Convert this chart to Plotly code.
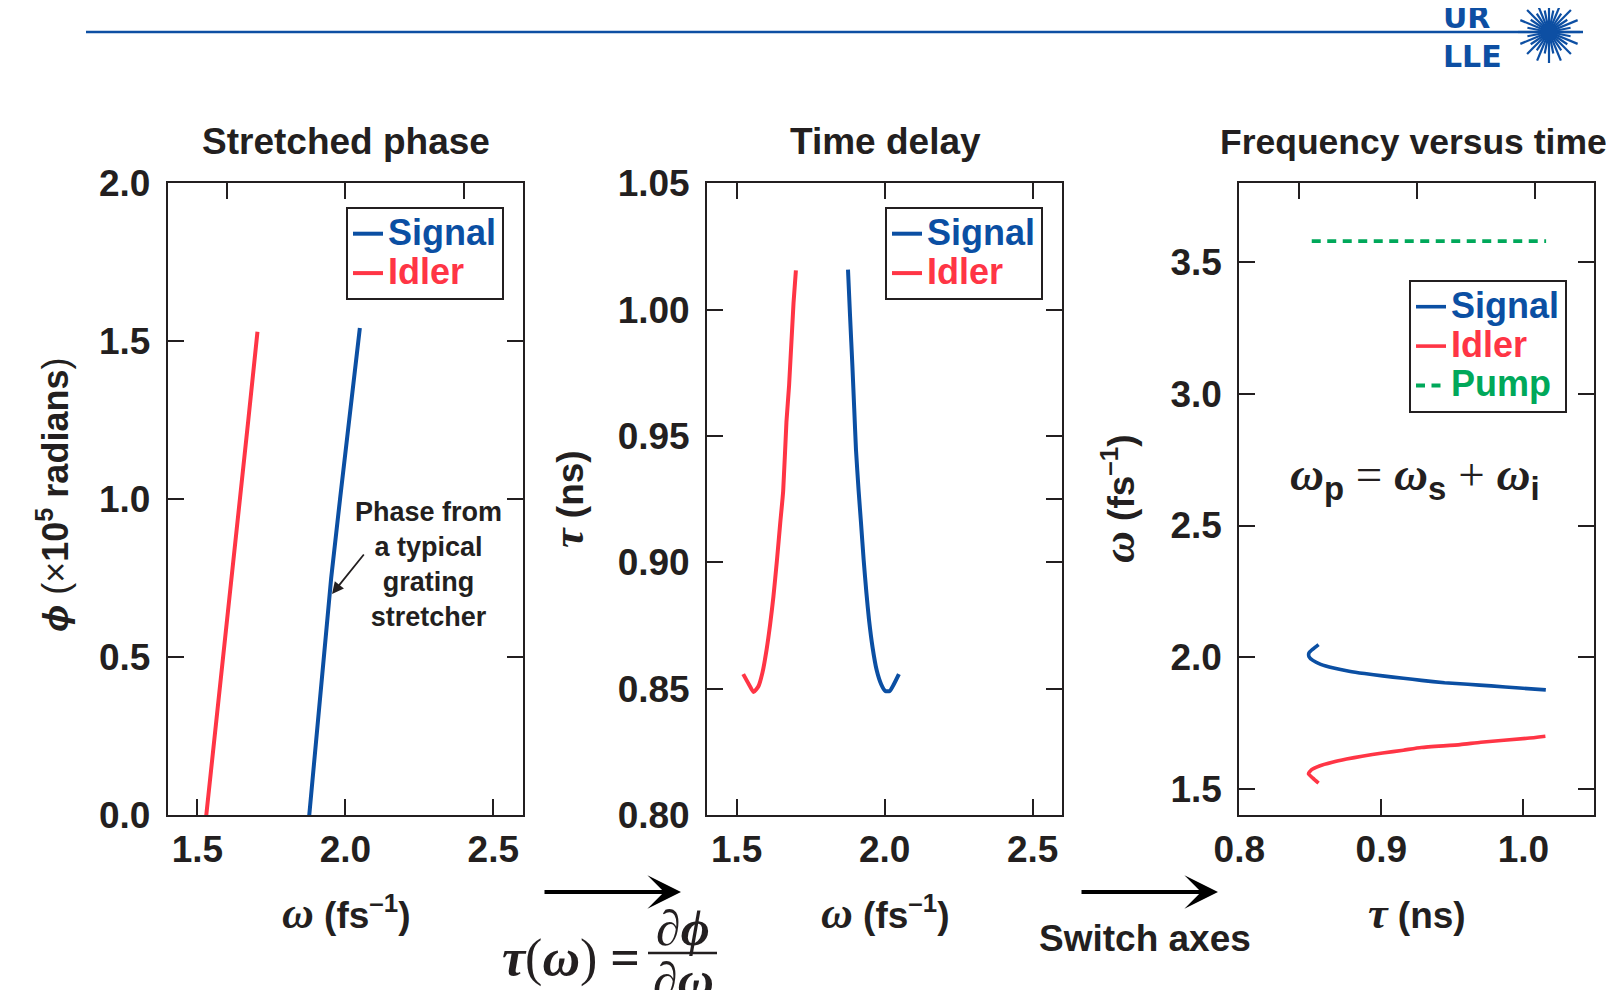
import math
import plotly.graph_objects as go

W, H = 1614, 990
OFF = 8  # the page body adds an 8 px margin around the figure


def px(x):
    return (x - OFF) / W


def py(y):
    return 1 - (y - OFF) / H


SANS = "Liberation Sans"
SERIF = "Liberation Serif"
INK = "#231f20"
SIG = "#0b4fa3"
IDL = "#ff3545"
PMP = "#00a85a"
LOGO = "#0d4fa3"

# ---------------- data ----------------
# Panel 1: stretched phase  phi (x1e5 rad) vs omega (fs^-1)
phase_signal_omega = [1.878, 1.902, 1.926, 1.952, 1.982, 2.013, 2.049]
phase_signal_phi = [0.0, 0.25, 0.50, 0.75, 1.00, 1.25, 1.542]
phase_idler_omega = [1.530, 1.559, 1.588, 1.617, 1.645, 1.672, 1.703]
phase_idler_phi = [0.0, 0.25, 0.50, 0.75, 1.00, 1.25, 1.530]

# Panel 2: time delay tau (ns) vs omega (fs^-1)
delay_idler_omega = [1.522, 1.541, 1.557, 1.573, 1.587, 1.601, 1.613, 1.624, 1.636,
                     1.647, 1.657, 1.668, 1.677, 1.692, 1.700]
delay_idler_tau = [0.8558, 0.8518, 0.8487, 0.8509, 0.8564, 0.8655, 0.8755, 0.8864, 0.9009,
                   0.9155, 0.9282, 0.9555, 0.9700, 1.0027, 1.0155]
delay_signal_omega = [1.876, 1.883, 1.891, 1.897, 1.903, 1.912, 1.920, 1.929, 1.938,
                      1.947, 1.959, 1.973, 1.988, 2.002, 2.017, 2.031, 2.048]
delay_signal_tau = [1.0158, 0.9973, 0.9773, 0.9609, 0.9445, 0.9282, 0.9155, 0.9009, 0.8882,
                    0.8773, 0.8664, 0.8573, 0.8518, 0.8491, 0.8491, 0.8518, 0.8558]

# Panel 3: pump frequency (fs^-1) across the delay window (ns)
pump_tau = [0.851, 1.016]
pump_omega = [3.58, 3.58]

# ticks
p1_x_ticks = [1.5, 2.0, 2.5]
p1_x_top_ticks = [1.6, 2.0, 2.4]
p1_y_ticks = [0.0, 0.5, 1.0, 1.5, 2.0]
p2_x_ticks = [1.5, 2.0, 2.5]
p2_y_ticks = [0.80, 0.85, 0.90, 0.95, 1.00, 1.05]
p2_y_right_extra = [0.925]
p3_x_ticks = [0.8, 0.9, 1.0]
p3_x_top_ticks = [0.842, 0.925, 1.008]
p3_y_ticks = [1.5, 2.0, 2.5, 3.0, 3.5]

# ---------------- figure ----------------
fig = go.Figure()


def leg_name(text, color):
    return f'<span style="color:{color};font-size:36px"><b>{text}</b></span>'


line_sig = dict(color=SIG, width=4)
line_idl = dict(color=IDL, width=4)

fig.add_trace(go.Scatter(x=phase_signal_omega, y=phase_signal_phi, mode="lines",
                         line=line_sig, name=leg_name("Signal", SIG),
                         xaxis="x", yaxis="y", legend="legend"))
fig.add_trace(go.Scatter(x=phase_idler_omega, y=phase_idler_phi, mode="lines",
                         line=line_idl, name=leg_name("Idler", IDL),
                         xaxis="x", yaxis="y", legend="legend"))

fig.add_trace(go.Scatter(x=delay_signal_omega, y=delay_signal_tau, mode="lines",
                         line=dict(line_sig, shape="spline", smoothing=0.5),
                         name=leg_name("Signal", SIG),
                         xaxis="x2", yaxis="y2", legend="legend2"))
fig.add_trace(go.Scatter(x=delay_idler_omega, y=delay_idler_tau, mode="lines",
                         line=dict(line_idl, shape="spline", smoothing=0.5),
                         name=leg_name("Idler", IDL),
                         xaxis="x2", yaxis="y2", legend="legend2"))

# Panel 3: same curves with the axes switched
fig.add_trace(go.Scatter(x=delay_signal_tau, y=delay_signal_omega, mode="lines",
                         line=dict(color=SIG, width=3.6, shape="spline", smoothing=0.5),
                         name=leg_name("Signal", SIG),
                         xaxis="x3", yaxis="y3", legend="legend3"))
fig.add_trace(go.Scatter(x=delay_idler_tau, y=delay_idler_omega, mode="lines",
                         line=dict(color=IDL, width=3.6, shape="spline", smoothing=0.5),
                         name=leg_name("Idler", IDL),
                         xaxis="x3", yaxis="y3", legend="legend3"))
fig.add_trace(go.Scatter(x=pump_tau, y=pump_omega, mode="lines",
                         line=dict(color=PMP, width=3.8, dash="9px,6.5px"),
                         name=leg_name("Pump", PMP),
                         xaxis="x3", yaxis="y3", legend="legend3"))

# placeholders so that the overlay tick axes are drawn
for xa, ya in (("x4", "y"), ("x5", "y3"), ("x2", "y4")):
    fig.add_trace(go.Scatter(x=[None], y=[None], xaxis=xa, yaxis=ya, showlegend=False,
                             hoverinfo="skip"))

TICKFONT = dict(family=SANS, size=37, color=INK, weight="bold")


def axis(**kw):
    d = dict(showgrid=False, zeroline=False, showline=True, linecolor=INK, linewidth=2,
             ticks="inside", ticklen=16, tickwidth=2, tickcolor=INK, tickfont=TICKFONT,
             ticklabelstandoff=8, fixedrange=True, automargin=False)
    d.update(kw)
    return d


YDOM = [py(815.2), py(183.2)]
X1 = [px(167.8), px(522.9)]
X2 = [px(707.1), px(1062.3)]
X3 = [px(1239.3), px(1594.4)]
XSTAND = 0

fig.update_layout(
    width=W, height=H, margin=dict(l=0, r=0, t=0, b=0, pad=0, autoexpand=False),
    paper_bgcolor="white", plot_bgcolor="white", showlegend=True,
    xaxis=axis(domain=X1, range=[1.4, 2.6], anchor="y", mirror=True, ticklabelstandoff=XSTAND,
               tickvals=p1_x_ticks, ticktext=[f"{v:.1f}" for v in p1_x_ticks]),
    yaxis=axis(domain=YDOM, range=[0, 2], anchor="x", mirror="ticks",
               tickvals=p1_y_ticks, ticktext=[f"{v:.1f}" for v in p1_y_ticks]),
    xaxis4=axis(overlaying="x", side="top", anchor="y", range=[1.4, 2.6], showline=False,
                tickvals=p1_x_top_ticks, showticklabels=False),
    xaxis2=axis(domain=X2, range=[1.4, 2.6], anchor="y2", mirror="ticks", ticklabelstandoff=XSTAND,
                tickvals=p2_x_ticks, ticktext=[f"{v:.1f}" for v in p2_x_ticks]),
    yaxis2=axis(domain=YDOM, range=[0.80, 1.05], anchor="x2", mirror="ticks",
                tickvals=p2_y_ticks, ticktext=[f"{v:.2f}" for v in p2_y_ticks]),
    yaxis4=axis(overlaying="y2", side="right", anchor="x2", range=[0.80, 1.05],
                showline=False, tickvals=p2_y_right_extra, showticklabels=False),
    xaxis3=axis(domain=X3, range=[0.8, 1.05], anchor="y3", mirror=True, ticklabelstandoff=XSTAND,
                tickvals=p3_x_ticks, ticktext=[f"{v:.1f}" for v in p3_x_ticks]),
    yaxis3=axis(domain=YDOM, range=[1.4, 3.8], anchor="x3", mirror="ticks",
                tickvals=p3_y_ticks, ticktext=[f"{v:.1f}" for v in p3_y_ticks]),
    xaxis5=axis(overlaying="x3", side="top", anchor="y3", range=[0.8, 1.05], showline=False,
                tickvals=p3_x_top_ticks, showticklabels=False),
)

LEG = dict(bgcolor="white", bordercolor=INK, borderwidth=2, itemwidth=30,
           font=dict(family=SANS, size=28, color=INK), xanchor="left", yanchor="top",
           tracegroupgap=0, itemclick=False, itemdoubleclick=False)
fig.update_layout(
    legend=dict(LEG, x=px(346), y=py(207)),
    legend2=dict(LEG, x=px(885), y=py(207)),
    legend3=dict(LEG, x=px(1409), y=py(280)),
)

ann = []


def text(x, y, s, size=36, family=SANS, angle=0, xanchor="center", weight="bold", color=INK,
         align="center"):
    ann.append(dict(x=px(x), y=py(y), xref="paper", yref="paper", text=s, showarrow=False,
                    xanchor=xanchor, yanchor="middle", textangle=angle, align=align,
                    font=dict(family=family, size=size, color=color, weight=weight)))


def greek(ch, size=None, bold=True):
    fs = f"font-size:{size}px;" if size else ""
    s = f'<span style="font-family:{SERIF};{fs}"><i>{ch}</i></span>'
    return f"<b>{s}</b>" if bold else s


# panel titles
text(346, 142, "Stretched phase", size=37)
text(885, 142, "Time delay", size=37)
text(1218, 142, "Frequency versus time", size=35.5, xanchor="left")

# axis titles
omega_title = greek("ω", 44) + " (fs<sup>–1</sup>)"
tau_title = greek("τ", 44) + " (ns)"
text(346, 913, omega_title, size=37)
text(885, 913, omega_title, size=37)
text(1417, 913, tau_title, size=37)
text(53, 495, '<i>ϕ</i> <span style="font-weight:normal">(×</span>10<sup>5</sup> radians<span style="font-weight:normal">)</span>',
     size=36, angle=-90)
text(568, 499, tau_title, size=37, angle=-90)
text(1119, 499, omega_title, size=37, angle=-90)

# stretcher note
text(428, 564, "Phase from<br>a typical<br>grating<br>stretcher", size=27)
ann.append(dict(x=1.955, y=0.70, xref="x", yref="y", text="", showarrow=True,
                ax=33, ay=-41, axref="pixel", ayref="pixel", arrowhead=2, arrowsize=1.3,
                arrowwidth=1.8, arrowcolor=INK, standoff=0))

# relation in panel 3
sub = lambda s: f'<sub><span style="font-family:{SANS}"><b>{s}</b></span></sub>'
text(1415, 478, greek("ω") + sub("p") + " = " + greek("ω") + sub("s") + " + " + greek("ω") + sub("i"),
     size=47, family=SERIF, weight="normal")

# bottom arrows and captions
for x_tip, x_tail in ((681, 543), (1218, 1080)):
    ann.append(dict(x=px(x_tip), y=py(892), xref="paper", yref="paper", text="",
                    showarrow=True, ax=x_tail - x_tip, ay=0, axref="pixel", ayref="pixel",
                    arrowhead=3, arrowsize=1.4, arrowwidth=4, arrowcolor="black", standoff=0))
text(1145, 938, "Switch axes", size=37)
text(642, 958, "<b><i>τ</i></b>(<b><i>ω</i></b>) <b>=</b>", size=52, family=SERIF,
     weight="normal", xanchor="right")
text(683, 928, "<b>∂<i>ϕ</i></b>", size=50, family=SERIF, weight="normal")
text(683, 980, "<b>∂<i>ω</i></b>", size=50, family=SERIF, weight="normal")

# logo text
text(1441, 37, "UR<br>LLE", size=30, family="DejaVu Sans", color=LOGO, xanchor="left",
     align="left")

fig.update_layout(annotations=ann)

shapes = []
# header rule
shapes.append(dict(type="line", xref="paper", yref="paper", x0=px(86), x1=px(1583),
                   y0=py(32), y1=py(32), line=dict(color=LOGO, width=2.5)))
# fraction bar
shapes.append(dict(type="line", xref="paper", yref="paper", x0=px(648), x1=px(717),
                   y0=py(953), y1=py(953), line=dict(color=INK, width=2.5)))
# starburst logo (decoration)
cx, cy = 1549, 32
n_rays = 32
for k in range(n_rays):
    a = 2 * math.pi * k / n_rays
    r = 31 if k % 2 == 0 else 22
    shapes.append(dict(type="line", xref="paper", yref="paper",
                       x0=px(cx), y0=py(cy), x1=px(cx + r * math.cos(a)), y1=py(cy - r * math.sin(a)),
                       line=dict(color=LOGO, width=2.2)))
shapes.append(dict(type="circle", xref="paper", yref="paper", x0=px(cx - 9), x1=px(cx + 9),
                   y0=py(cy + 9), y1=py(cy - 9), fillcolor=LOGO, line=dict(width=0)))
fig.update_layout(shapes=shapes)

fig.write_html("out.html")
